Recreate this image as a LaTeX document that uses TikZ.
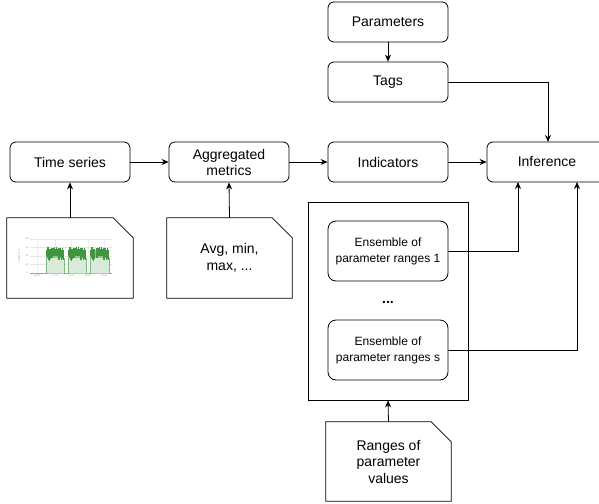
\documentclass[tikz,border=0pt]{standalone}
\usepackage{fontspec}
\setmainfont{Liberation Sans}
\usetikzlibrary{arrows.meta}
\tikzset{
  box/.style={draw, line width=0.8pt, rounded corners=6pt, minimum width=120pt, minimum height=40pt, inner sep=0pt, align=center, font=\fontsize{14}{16}\selectfont},
  ensbox/.style={draw, line width=0.8pt, rounded corners=8pt, minimum width=120pt, minimum height=60pt, inner sep=0pt, align=center, font=\fontsize{12}{16}\selectfont},
  docnode/.style={draw=none, minimum width=125pt, minimum height=80pt, inner sep=0pt, align=center, font=\fontsize{14}{16.5}\selectfont},
  docline/.style={line width=0.8pt, line join=miter},
  conn/.style={line width=0.8pt, -{Stealth[length=7pt,width=6pt]}},
  ticklab/.style={font=\fontsize{2.2}{2.2}\selectfont, text=black!45, inner sep=0pt}
}
\begin{document}
\begin{tikzpicture}[x=1pt,y=-1pt]
\useasboundingbox (0,0) rectangle (599,503);
% main boxes
\node[box] (params) at (388,22) {Parameters};
\node[box] (tags) at (388,82) {Tags};
\node[box] (ts) at (70,162) {Time series};
\node[box] (agg) at (229,162) {Aggregated\\metrics};
\node[box] (ind) at (388,162) {Indicators};
\node[box] (inf) at (547,162) {Inference};
% container
\node[draw, line width=0.8pt, minimum width=160pt, minimum height=198pt, inner sep=0pt] (cont) at (388,301) {};
\node[ensbox] (ens1) at (388,251) {Ensemble of\\parameter ranges 1};
\node[ensbox] (enss) at (388,350) {Ensemble of\\parameter ranges s};
\node[font=\fontsize{14}{16}\selectfont, inner sep=0pt] (dots) at (388,302) {\textbf{...}};
% documents
\node[docnode, minimum width=126pt] (tsdoc) at (70,258) {};
\node[docnode] (avgdoc) at (229.5,258) {Avg, min,\\max, ...};
\node[docnode, minimum height=79pt] (rangedoc) at (388.5,461.5) {Ranges of\\parameter\\values};
\foreach \d in {tsdoc,avgdoc,rangedoc}{
  \draw[docline] (\d.north west) -- ([xshift=-20pt]\d.north east) -- ([yshift=-20pt]\d.north east) -- (\d.south east) -- (\d.south west) -- cycle;
}
% chart inside time series doc
\begin{scope}
  \foreach \yy in {239,247.5,256,264.5} \draw[black!10, line width=0.3pt] (30,\yy) -- (112,\yy);
  \foreach \xx in {37,55,71,88,104} \draw[black!7, line width=0.3pt] (\xx,239) -- (\xx,273);
  \draw[black!25, line width=0.3pt] (30,273) -- (112,273);
  \foreach \a/\b in {46/64,68/86,90/109}{
    \fill[green!45!black!15] (\a,273) rectangle (\b,258);
    \fill[green!50!black!45] (\a,249.5) rectangle (\b,258);
    \pgfmathsetseed{7}
    \foreach \k in {0,...,17}{
      \pgfmathsetmacro{\xk}{\a+0.5+\k*(\b-\a-1)/17}
      \pgfmathsetmacro{\yt}{247+3*rnd}
      \pgfmathsetmacro{\yb}{255+6*rnd}
      \draw[green!45!black!75, line width=0.5pt] (\xk,\yt) -- (\xk,\yb);
    }
  }
  \draw[green!45!black!50, line width=0.4pt] (30,273) -- (46,273) -- (46,258);
  \draw[green!45!black!50, line width=0.4pt] (64,258) -- (64,273) -- (68,273) -- (68,258);
  \draw[green!45!black!50, line width=0.4pt] (86,258) -- (86,273) -- (90,273) -- (90,258);
  \draw[green!45!black!50, line width=0.4pt] (109,258) -- (109,273) -- (112,273);
  \node[ticklab] (y100) at (27,239) {100};
  \node[ticklab] (y75) at (27,247.5) {75};
  \node[ticklab] (y50) at (27,256) {50};
  \node[ticklab] (y25) at (27,264.5) {25};
  \node[ticklab] (y0) at (27,273) {0};
  \node[ticklab, rotate=90] (ytitle) at (19,256) {Utilization \%};
  \node[ticklab] (x1) at (37,276) {16:30};
  \node[ticklab] (x2) at (55,276) {17:00};
  \node[ticklab] (x3) at (71,276) {17:30};
  \node[ticklab] (x4) at (88,276) {18:00};
  \node[ticklab] (x5) at (104,276) {18:30};
\end{scope}
% connectors
\draw[conn] (params) -- (tags);
\draw[conn] (ts) -- (agg);
\draw[conn] (agg) -- (ind);
\draw[conn] (ind) -- (inf);
\draw[conn] (tags.east) -| (548,142);
\draw[conn] (tsdoc.north) -- (ts.south);
\draw[conn] (avgdoc.north) -- (agg.south);
\draw[conn] (rangedoc.north) -- (cont.south);
\coordinate (b1) at (518,182);
\coordinate (b2) at (577,182);
\draw[conn] (ens1.east) -| (b1);
\draw[conn] (enss.east) -| (b2);
\end{tikzpicture}
\end{document}
